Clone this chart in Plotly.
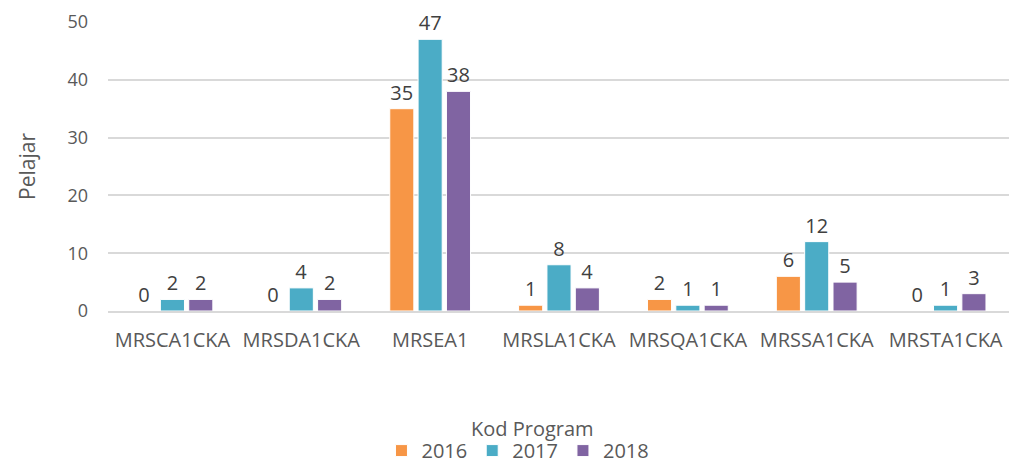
import plotly.graph_objects as go

categories = ["MRSCA1CKA", "MRSDA1CKA", "MRSEA1", "MRSLA1CKA", "MRSQA1CKA", "MRSSA1CKA", "MRSTA1CKA"]
series_names = ["2016", "2017", "2018"]
values_2016 = [0, 0, 35, 1, 2, 6, 0]
values_2017 = [2, 4, 47, 8, 1, 12, 1]
values_2018 = [2, 2, 38, 4, 1, 5, 3]
colors = ["#F79646", "#4BACC6", "#8064A2"]

FONT = "Open Sans"
fig = go.Figure()
for name, vals, col in zip(series_names, [values_2016, values_2017, values_2018], colors):
    fig.add_trace(go.Bar(
        x=categories, y=vals, name=name,
        marker=dict(color=col, line=dict(color="white", width=1)),
        text=[str(v) for v in vals], textposition="outside",
        textfont=dict(family=FONT, size=20, color="#404040"),
        cliponaxis=False,
    ))

# the page adds an 8px body margin, so the figure is sized 8px smaller
fig.update_layout(
    width=1009, height=458,
    margin=dict(l=100, r=7, t=14, b=155, autoexpand=False),
    paper_bgcolor="white", plot_bgcolor="white",
    barmode="group", bargap=0.34, bargroupgap=0.15,
    font=dict(family=FONT, size=20, color="#595959"),
    xaxis=dict(showgrid=False, showline=True, linecolor="#D9D9D9", linewidth=1.5,
               tickfont=dict(family=FONT, size=20, color="#595959"), ticks="",
               ticklabelstandoff=10, automargin=False),
    yaxis=dict(range=[0, 50], dtick=10, showgrid=True, gridcolor="#D9D9D9", gridwidth=1.5,
               zeroline=False, showline=False, ticks="", ticklen=0, automargin=False,
               ticklabelstandoff=19, ticklabeloverflow="allow",
               tickfont=dict(family=FONT, size=18, color="#595959"),
               title=dict(text="Pelajar", font=dict(family=FONT, size=21, color="#595959"), standoff=26)),
    showlegend=True,
    legend=dict(orientation="h", x=0.4545, xanchor="center", y=-0.483, yanchor="middle",
                font=dict(family=FONT, size=20, color="#595959"), itemwidth=30,
                bgcolor="rgba(0,0,0,0)"),
    annotations=[dict(text="Kod Program", xref="paper", yref="paper", x=0.471, y=-0.405,
                      xanchor="center", yanchor="middle", showarrow=False,
                      font=dict(family=FONT, size=20, color="#595959"))],
)

fig.write_html("out.html")
